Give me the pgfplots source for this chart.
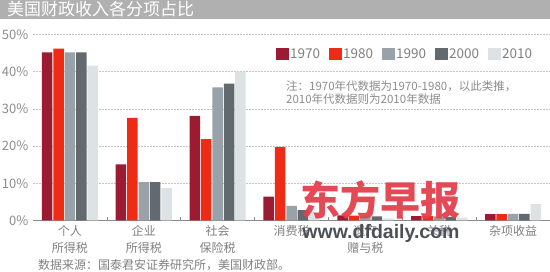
\documentclass[border=0pt]{standalone}
\usepackage{fontspec}
\setmainfont{Noto Sans CJK SC}
\newfontfamily\wmlatin{Liberation Sans}
\usepackage{pgfplots}
\pgfplotsset{compat=1.18}
\definecolor{c1970}{HTML}{9A1B32}
\definecolor{c1980}{HTML}{EE2B14}
\definecolor{c1990}{HTML}{99A2A8}
\definecolor{c2000}{HTML}{62696F}
\definecolor{c2010}{HTML}{DDE3E4}
\definecolor{titlegray}{HTML}{B0B0B0}
\definecolor{tickgray}{HTML}{8C8C8C}
\definecolor{labgray}{HTML}{808080}
\definecolor{gridgray}{HTML}{C4C4C4}
\definecolor{axisgray}{HTML}{8A8A8A}
\definecolor{wmred}{HTML}{E2404D}
\definecolor{wmgray}{HTML}{4D5157}
\pgfplotsset{sqlegend/.style={legend image code/.code={\path[##1,draw=none] (0pt,-6pt) rectangle (13pt,6pt);}}}
\begin{document}
\begin{tikzpicture}[x=1pt,y=1pt]
\useasboundingbox (0,0) rectangle (550,271);
\fill[titlegray] (0,252) rectangle (550,271);
\node[anchor=west, text=white, font=\fontsize{17}{17}\selectfont, inner sep=0pt] at (7,261.5) {美国财政收入各分项占比};
\begin{axis}[
  at={(33pt,50.5pt)}, anchor=south west, scale only axis,
  width=517pt, height=186pt,
  xmin=-0.5, xmax=6.5, ymin=0, ymax=50,
  ybar=0.9pt, bar width=10.5pt,
  axis x line*=bottom, axis y line*=left,
  x axis line style={-, draw=axisgray, line width=0.8pt},
  y axis line style={draw=none},
  ytick={0,10,20,30,40,50},
  yticklabels={0\%,10\%,20\%,30\%,40\%,50\%},
  ytick style={draw=none},
  yticklabel style={font=\fontsize{13}{13}\selectfont, text=tickgray, inner sep=0pt, anchor=east, xshift=-4.5pt},
  xtick={0,1,2,3,4,5,6},
  xticklabels={{个人\\所得税},{企业\\所得税},{社会\\保险税},{消费税},{遗产\\赠与税},{关税},{杂项收益}},
  major x tick style={draw=none},
  minor xtick={0.5,1.5,2.5,3.5,4.5,5.5},
  minor x tick style={draw=axisgray, line width=0.6pt},
  minor tick length=3.5pt,
  tick align=inside,
  xticklabel style={font=\fontsize{12}{16.5}\selectfont, text=labgray, align=center, anchor=north, inner sep=0pt, yshift=-4.8pt},
  ymajorgrids,
  grid style={draw=gridgray, dash pattern=on 1.5pt off 1.5pt, line width=0.6pt},
  legend columns=5,
  legend style={at={(0.470,0.895)}, anchor=west, draw=none, fill=none, inner sep=0pt,
    font=\fontsize{13.5}{13.5}\selectfont, text=labgray,
    /tikz/every even column/.append style={column sep=8pt},
    nodes={inner sep=1pt}},
]
\addplot[fill=c1970, draw=none, sqlegend] coordinates {(0,45.2) (1,15.1) (2,28.1) (3,6.4) (4,1.4) (5,1.2) (6,1.7)};
\addplot[fill=c1980, draw=none, sqlegend] coordinates {(0,46.2) (1,27.6) (2,21.9) (3,19.7) (4,1.3) (5,1.2) (6,1.7)};
\addplot[fill=c1990, draw=none, sqlegend] coordinates {(0,45.2) (1,10.3) (2,35.8) (3,3.9) (4,1.1) (5,1.1) (6,1.8)};
\addplot[fill=c2000, draw=none, sqlegend] coordinates {(0,45.2) (1,10.3) (2,36.8) (3,2.8) (4,1.1) (5,1.0) (6,1.8)};
\addplot[fill=c2010, draw=none, sqlegend] coordinates {(0,41.6) (1,8.7) (2,40.0) (3,2.3) (4,0.6) (5,0.8) (6,4.4)};
\legend{1970,1980,1990,2000,2010}
\end{axis}
\node[anchor=base west, inner sep=0pt, text=tickgray, font=\fontsize{11.5}{11.5}\selectfont] at (286,180) {注：1970年代数据为1970-1980，以此类推，};
\node[anchor=base west, inner sep=0pt, text=tickgray, font=\fontsize{11.5}{11.5}\selectfont] at (286,167.3) {2010年代数据则为2010年数据};
\node[anchor=base west, inner sep=0pt, text=labgray, font=\fontsize{12}{12}\selectfont] at (38,1.8) {数据来源：国泰君安证券研究所，美国财政部。};
\node[inner sep=0pt, text=wmred, opacity=0.95, font=\fontsize{40}{40}\selectfont\bfseries] at (380,71) {东方早报};
\node[inner sep=0pt, text=wmgray, font=\wmlatin\fontsize{19.5}{19.5}\selectfont\bfseries] at (381,38) {www.dfdaily.com};
\end{tikzpicture}
\end{document}
